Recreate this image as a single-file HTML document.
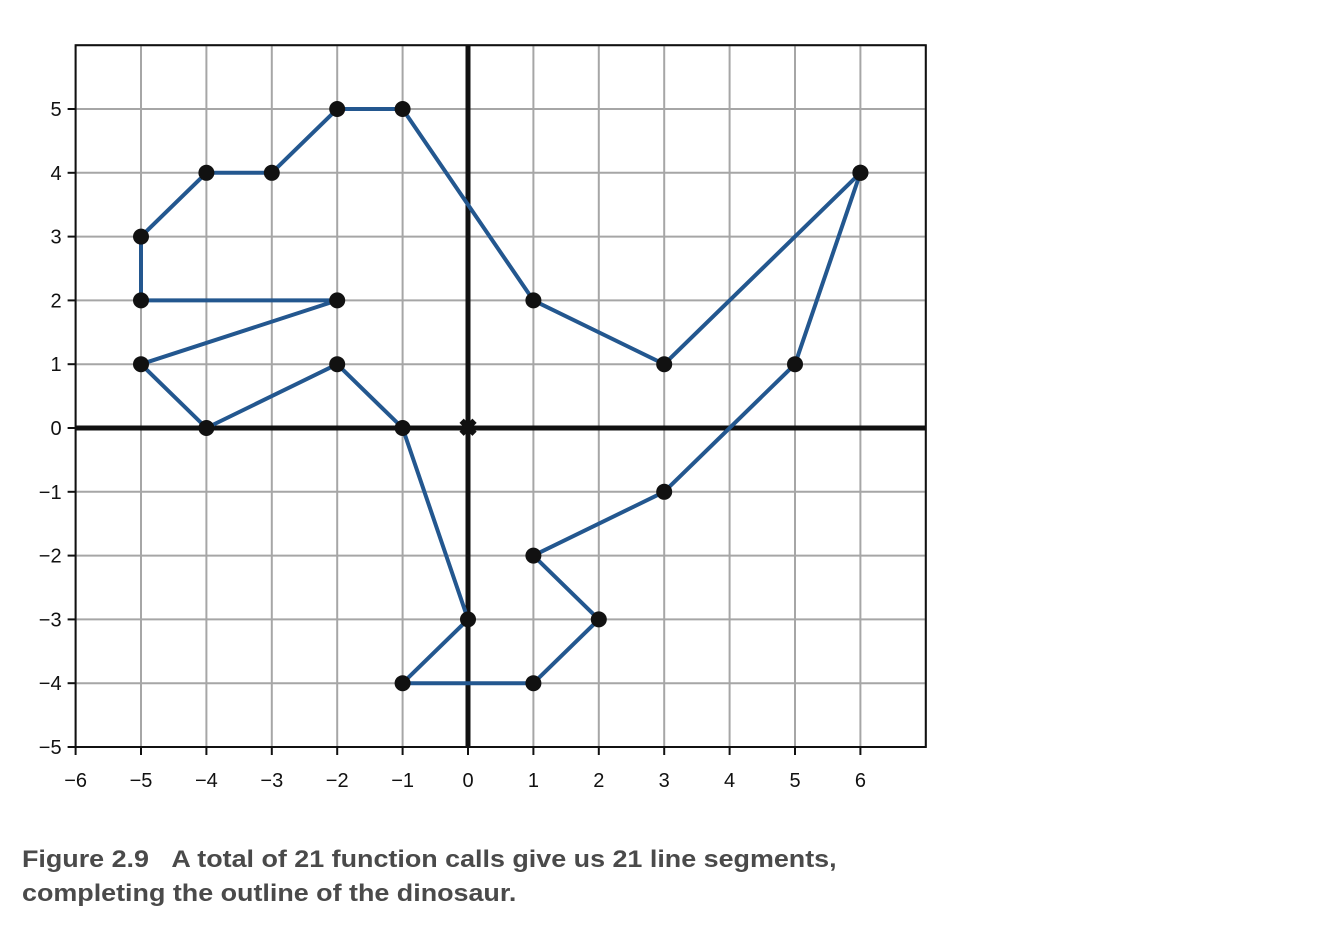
<!DOCTYPE html>
<html><head><meta charset="utf-8"><style>
body{margin:0;background:#fff;width:1342px;height:950px;overflow:hidden;font-family:"Liberation Sans",sans-serif}
.cap{position:absolute;left:22px;top:843px;font-size:24px;font-weight:bold;color:#4a4a4a;line-height:34px;white-space:nowrap;transform:scaleX(1.12);transform-origin:0 0}
</style></head><body>
<svg id="chart" width="1342" height="830" style="position:absolute;left:0;top:0"></svg>
<div class="cap">Figure 2.9&nbsp;&nbsp;&nbsp;A total of 21 function calls give us 21 line segments,<br>completing the outline of the dinosaur.</div>
<script>
const xs=[6,3,1,-1,-2,-3,-4,-5,-5,-2,-5,-4,-2,-1,0,-1,1,2,1,3,5,6];
const ys=[4,1,2,5,5,4,4,3,2,2,1,0,1,0,-3,-4,-4,-3,-2,-1,1,4];
const xTicks=[-6,-5,-4,-3,-2,-1,0,1,2,3,4,5,6];
const yTicks=[-5,-4,-3,-2,-1,0,1,2,3,4,5];
const NS="http://www.w3.org/2000/svg";
const svg=document.getElementById('chart');
const X=v=>468+v*65.4, Y=v=>428-v*63.8;
function mk(t,a){const e=document.createElementNS(NS,t);for(const k in a)e.setAttribute(k,a[k]);svg.appendChild(e);return e;}
for(let v=-6;v<=7;v++){const g=mk('line',{x1:X(v),x2:X(v),y1:Y(6),y2:Y(-5),stroke:'#a6a6a6','stroke-width':2});

}
for(let v=-5;v<=6;v++){const g=mk('line',{x1:X(-6),x2:X(7),y1:Y(v),y2:Y(v),stroke:'#a6a6a6','stroke-width':2});

}
const a1=mk('line',{x1:X(0),x2:X(0),y1:Y(6),y2:Y(-5),stroke:'#111','stroke-width':5});


const a2=mk('line',{x1:X(-6),x2:X(7),y1:Y(0),y2:Y(0),stroke:'#111','stroke-width':5});


const fr=mk('rect',{x:X(-6),y:Y(6),width:X(7)-X(-6),height:Y(-5)-Y(6),fill:'none',stroke:'#111','stroke-width':2});


xTicks.forEach(v=>{mk('line',{x1:X(v),x2:X(v),y1:Y(-5),y2:Y(-5)+8,stroke:'#111','stroke-width':2});
const t=mk('text',{x:X(v),y:787,'text-anchor':'middle','font-size':20,fill:'#111'});t.textContent=v<0?'\u2212'+(-v):v;

});
yTicks.forEach(v=>{mk('line',{x1:X(-6)-8,x2:X(-6),y1:Y(v),y2:Y(v),stroke:'#111','stroke-width':2});
const t=mk('text',{x:X(-6)-14,y:Y(v)+7,'text-anchor':'end','font-size':20,fill:'#111'});t.textContent=v<0?'\u2212'+(-v):v;

});
const pl=mk('polyline',{points:xs.map((x,i)=>X(x)+','+Y(ys[i])).join(' '),fill:'none',stroke:'#23578f','stroke-width':4,'stroke-linejoin':'round'});


xs.forEach((x,i)=>{const c=mk('circle',{cx:X(x),cy:Y(ys[i]),r:8,fill:'#111'});

});
const o=mk('text',{x:X(0),y:Y(0)+8,'text-anchor':'middle','font-size':24,'font-weight':'bold',fill:'#111'});o.textContent='\u2716';


</script>
</body></html>
